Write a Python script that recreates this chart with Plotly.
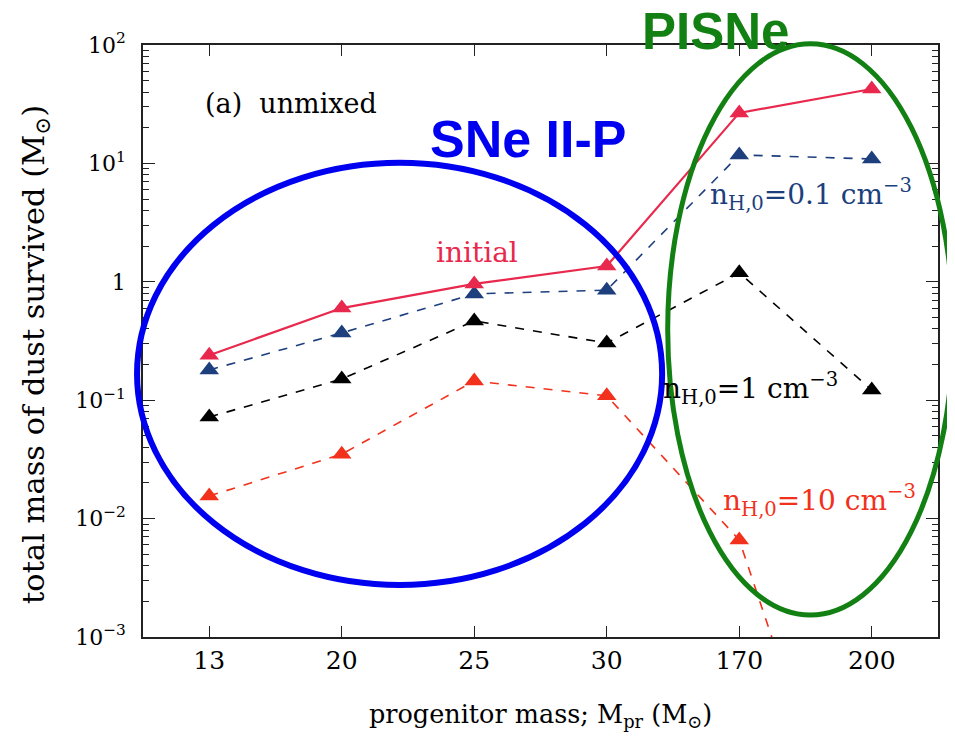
import plotly.graph_objects as go

masses = ["13", "20", "25", "30", "170", "200"]
initial = [0.24, 0.60, 0.96, 1.36, 26.7, 42.5]
n01 = [0.18, 0.37, 0.79, 0.85, 11.8, 10.9]
n1 = [0.072, 0.151, 0.467, 0.304, 1.19, 0.122]
n10 = [0.0155, 0.035, 0.145, 0.109, 0.0066, 3e-6]

ytickvals = [1e-3, 1e-2, 1e-1, 1, 10, 100]
yticktext = ["10<sup>−3</sup>", "10<sup>−2</sup>", "10<sup>−1</sup>", "1", "10<sup>1</sup>", "10<sup>2</sup>"]

SERIF = "DejaVu Serif"
C_INIT = "#e8284c"
C_01 = "#1d3f7e"
C_1 = "#000000"
C_10 = "#f2311c"

fig = go.Figure()

def add(y, color, dash, width):
    fig.add_trace(go.Scatter(
        x=masses, y=y, mode="lines+markers",
        line=dict(color=color, dash=dash, width=width),
        marker=dict(symbol="triangle-up", size=17, color=color),
        showlegend=False,
    ))

add(n10, C_10, "dash", 1.6)
add(n1, C_1, "dash", 1.6)
add(n01, C_01, "dash", 1.6)
add(initial, C_INIT, "solid", 2.2)

# page body has an 8px margin; size the figure so the plot area lands where the reference has it
fig.update_layout(
    width=947, height=728,
    margin=dict(l=135, r=17, t=37, b=99),
    plot_bgcolor="white", paper_bgcolor="white",
    font=dict(family=SERIF, color="black", size=21),
    xaxis=dict(
        type="category", range=[-0.5, 5.5],
        showline=True, linecolor="#222", linewidth=1.5, mirror="ticks",
        ticks="inside", ticklen=11, tickcolor="#222",
        showgrid=False, zeroline=False,
        tickfont=dict(family=SERIF, size=25),
        ticklabelstandoff=0,
    ),
    yaxis=dict(
        type="log", range=[-3, 2],
        tickvals=ytickvals, ticktext=yticktext,
        showline=True, linecolor="#222", linewidth=1.5, mirror="ticks",
        ticks="inside", ticklen=12, tickcolor="#222",
        minor=dict(ticks="inside", ticklen=6, dtick="D1", tickcolor="#222", showgrid=False),
        showgrid=False, zeroline=False,
        tickfont=dict(family=SERIF, size=22),
        ticklabelstandoff=11,
    ),
)

# highlight ellipses
fig.add_shape(type="circle", xref="paper", yref="paper",
              x0=-0.0075, x1=0.653, y0=0.088, y1=0.801,
              line=dict(color="#0000f0", width=6))
fig.add_shape(type="circle", xref="paper", yref="paper",
              x0=0.660, x1=1.019, y0=0.037, y1=1.002,
              line=dict(color="#138013", width=5))

ann = [
    dict(x=0.0755, y=0.902, text="(a)  unmixed", color="black", size=27, xanchor="left"),
    dict(x=0.420, y=0.650, text="initial", color=C_INIT, size=28, xanchor="center"),
    dict(x=0.711, y=0.747, text="n<sub>H,0</sub>=0.1 cm<sup>−3</sup>", color=C_01, size=28, xanchor="left"),
    dict(x=0.651, y=0.420, text="n<sub>H,0</sub>=1 cm<sup>−3</sup>", color="black", size=28, xanchor="left"),
    dict(x=0.727, y=0.230, text="n<sub>H,0</sub>=10 cm<sup>−3</sup>", color=C_10, size=28, xanchor="left"),
]
for a in ann:
    fig.add_annotation(x=a["x"], y=a["y"], xref="paper", yref="paper", text=a["text"],
                       showarrow=False, xanchor=a["xanchor"], yanchor="middle",
                       font=dict(family=SERIF, size=a["size"], color=a["color"]))

fig.add_annotation(x=0.4855, y=0.841, xref="paper", yref="paper", text="<b>SNe II-P</b>",
                   showarrow=False, xanchor="center", yanchor="middle",
                   font=dict(family="Liberation Sans", size=52, color="#0000f0"))
fig.add_annotation(x=0.7195, y=1.022, xref="paper", yref="paper", text="<b>PISNe</b>",
                   showarrow=False, xanchor="center", yanchor="middle",
                   font=dict(family="Liberation Sans", size=51, color="#138013"))

fig.add_annotation(x=0.5, y=-0.132, xref="paper", yref="paper", xanchor="center", yanchor="middle",
                   text="progenitor mass; M<sub>pr</sub> (M<sub>⊙</sub>)", showarrow=False,
                   font=dict(family=SERIF, size=25.5, color="black"))
fig.add_annotation(x=-0.136, y=0.478, xref="paper", yref="paper", textangle=-90,
                   xanchor="center", yanchor="middle",
                   text="total mass of dust survived (M<sub>⊙</sub>)", showarrow=False,
                   font=dict(family=SERIF, size=30.5, color="black"))

fig.write_html("out.html")
